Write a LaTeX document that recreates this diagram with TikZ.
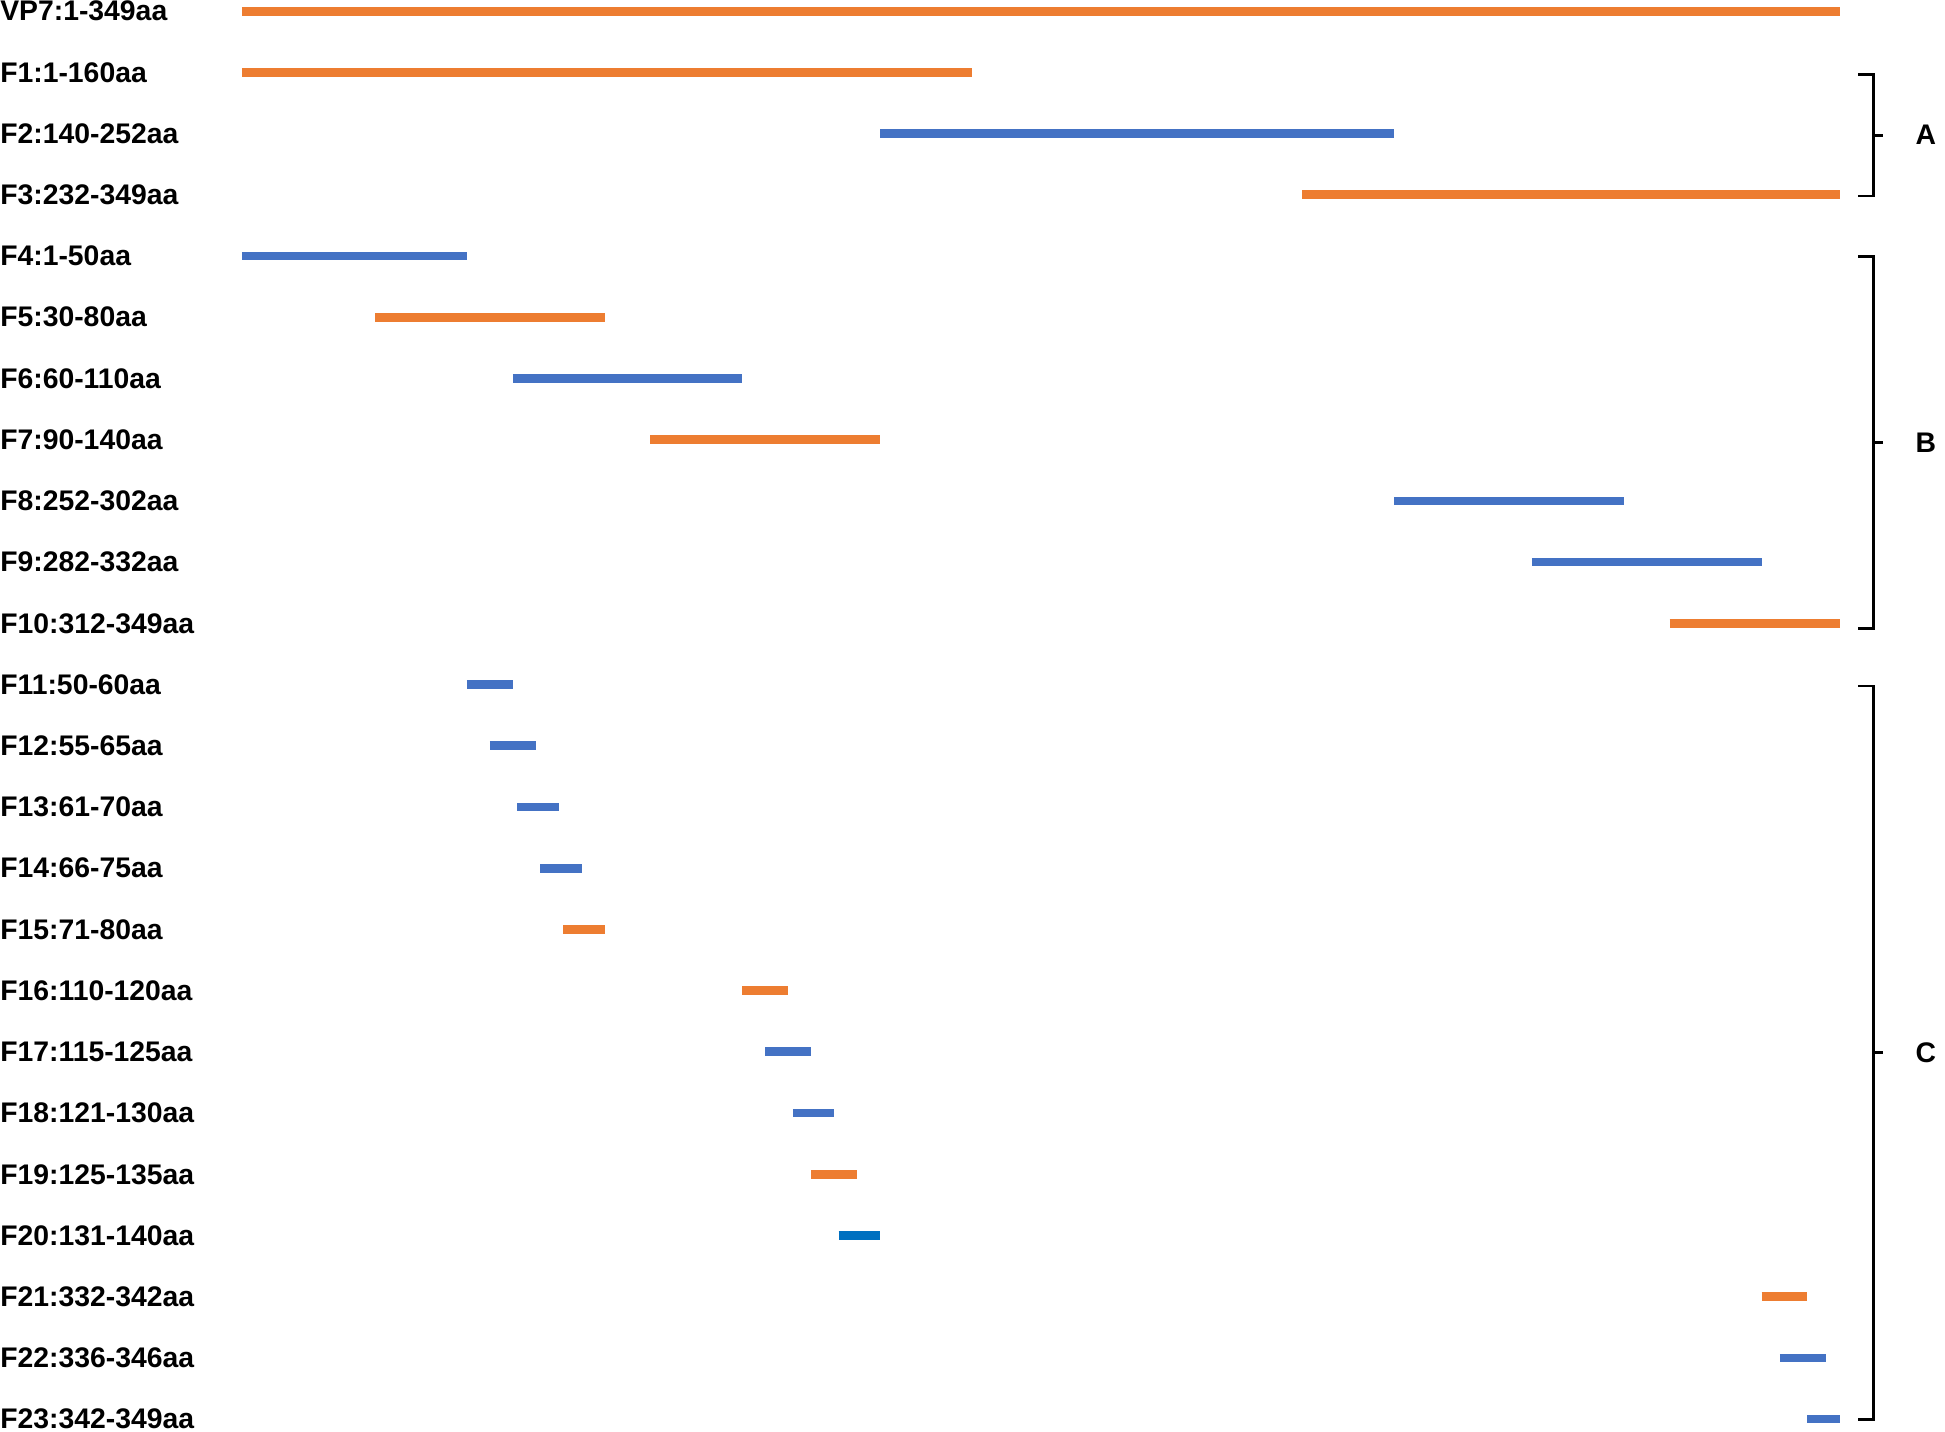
\documentclass[tikz,border=0pt]{standalone}
\usepackage{fontspec}
\setmainfont{Liberation Sans}
\begin{document}
\begin{tikzpicture}[x=0.03cm,y=-0.03cm]
\definecolor{org}{HTML}{ED7D31}\definecolor{blu}{HTML}{4472C4}\definecolor{blu2}{HTML}{0070C0}
\tikzset{lbl/.style={anchor=west,inner sep=0pt,font=\bfseries\fontsize{19.5}{20}\selectfont},
 bar/.style={line width=7*0.8536pt},
 brc/.style={line width=2pt}}
\useasboundingbox (0,0) rectangle (1568,1154);
\def\ax#1{195+(#1-1)*3.7011}
\foreach \i/\t/\a/\b/\c in {0/VP7:1-349aa/1/349/org,1/F1:1-160aa/1/160/org,2/F2:140-252aa/140/252/blu,3/F3:232-349aa/232/349/org,
4/F4:1-50aa/1/50/blu,5/F5:30-80aa/30/80/org,6/F6:60-110aa/60/110/blu,7/F7:90-140aa/90/140/org,8/F8:252-302aa/252/302/blu,
9/F9:282-332aa/282/332/blu,10/F10:312-349aa/312/349/org,11/F11:50-60aa/50/60/blu,12/F12:55-65aa/55/65/blu,13/F13:61-70aa/61/70/blu,
14/F14:66-75aa/66/75/blu,15/F15:71-80aa/71/80/org,16/F16:110-120aa/110/120/org,17/F17:115-125aa/115/125/blu,18/F18:121-130aa/121/130/blu,
19/F19:125-135aa/125/135/org,20/F20:131-140aa/131/140/blu2,21/F21:332-342aa/332/342/org,22/F22:336-346aa/336/346/blu,23/F23:342-349aa/342/349/blu}{
 \node[lbl] (L\i) at (0,{9+49.35*\i}) {\t};
 \coordinate (s\i) at ({\ax{\a}},{9+49.35*\i});
 \coordinate (e\i) at ({\ax{\b}},{9+49.35*\i});
 \draw[bar,\c] (s\i) -- (e\i);
}
\foreach \n/\ya/\yb in {A/60/158,B/207/507,C/553/1144}{
 \draw[brc] (1498,\ya) -- (1510,\ya) -- (1510,\yb) -- (1498,\yb);
 \coordinate (m\n) at (1510,{(\ya+\yb)/2});
 \draw[brc] (m\n) -- ++(8,0);
 \node[lbl] (T\n) at (1544,{(\ya+\yb)/2}) {\n};
}
\end{tikzpicture}
\end{document}
